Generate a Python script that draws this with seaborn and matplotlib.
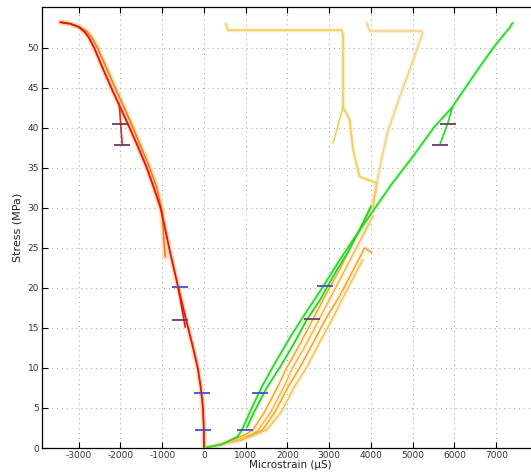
import matplotlib
matplotlib.use("Agg")
import matplotlib.pyplot as plt
import seaborn as sns
import pandas as pd

# ---------------- data ----------------
x_ticks = [-3000, -2000, -1000, 0, 1000, 2000, 3000, 4000, 5000, 6000, 7000]
y_ticks = [0, 5, 10, 15, 20, 25, 30, 35, 40, 45, 50]

# compressive gauge (left)
red_x = [0, -5, -25, -75, -150, -260, -380, -500, -615, -725, -835, -935, -1040, -1200, -1370,
         -1570, -1780, -2000, -2220, -2430, -2630, -2760, -2860, -3000, -3200, -3440]
red_y = [0, 2.5, 5, 7.5, 10, 12.5, 15, 17.5, 20, 22.5, 25, 27.5, 30, 32.5, 35,
         37.5, 40, 42.5, 45, 47.5, 50, 51.3, 52, 52.6, 53.0, 53.2]
orange_l_x = [-930, -960, -985, -1000, -1130, -1300, -1500, -1700, -1910, -2130, -2340, -2550,
              -2690, -2800, -2980, -3200, -3440]
orange_l_y = [23.9, 26, 28, 29.5, 32.5, 35, 37.5, 40, 42.5, 45, 47.5, 50,
              51.3, 52, 52.6, 53.0, 53.2]
red_b1_x = [-2030, -1960]
red_b1_y = [43.0, 37.9]
red_b2_x = [-615, -450]
red_b2_y = [20.0, 15.1]

# tensile gauges (right)
g1_x = [0, 400, 800, 910, 1100, 1380, 1700, 2060, 2400, 2820, 3250, 3650, 4020, 4500,
        5000, 5500, 5950, 6050, 6600, 7000, 7320, 7390]
g1_y = [0, 0.4, 1.4, 2.25, 4.5, 7.6, 10.6, 13.8, 16.6, 19.9, 23.5, 26.6, 29.4, 33,
        36.4, 40, 42.6, 43.4, 47.6, 50.5, 52.5, 53.1]
g2_x = [1030, 1200, 1500, 1820, 2150, 2460, 2780, 3100, 3450, 3750, 4000]
g2_y = [2.6, 4.5, 7.5, 10.1, 13, 16, 18.5, 21.5, 24.5, 27.5, 30.2]
g_b_x = [5950, 5840, 5650]
g_b_y = [42.6, 40.6, 37.9]

o1_x = [0, 500, 1000, 1170, 1450, 1750, 1990, 2300, 2600, 2900, 3250, 3600, 4000]
o1_y = [0, 0.6, 1.7, 2.25, 4.5, 7.5, 10.1, 13, 16, 19, 22.3, 26, 30]
o2_x = [0, 700, 1150, 1300, 1600, 1900, 2130, 2450, 2750, 3050, 3400, 3750, 4050]
o2_y = [0, 0.8, 1.7, 2.25, 4.5, 7.5, 10.1, 13, 16, 19, 22.5, 26, 29]
o3_x = [0, 900, 1400, 1700, 2000, 2300, 2600, 2900, 3250, 3550, 3850, 4020]
o3_y = [0, 1, 2.25, 4.5, 7.5, 10.1, 13, 16, 19, 22, 25, 24.4]
o4_x = [300, 1000, 1500, 1850, 2150, 2460, 2750, 3060, 3400, 3800]
o4_y = [0.3, 1.2, 2.25, 4.5, 7.5, 10.1, 13, 16, 19.5, 23.5]
o_up_x = [4000, 4100, 4250, 4400, 4690, 5000, 5240, 5200, 3970, 3900]
o_up_y = [30, 32, 36, 39.5, 43.9, 48.3, 51.9, 52.1, 52.1, 53.1]
y_up_x = [4050, 4140, 3730, 3570, 3490, 3330, 3330, 3300, 575, 520]
y_up_y = [30, 33.1, 33.9, 37.25, 41, 42.6, 51.6, 52.2, 52.2, 53.0]
y_b_x = [3090, 3330]
y_b_y = [38.1, 42.6]

# error markers
mk_blue_x = [-20, -50, -575, 980, 1340, 2900]
mk_blue_y = [2.25, 6.9, 20.1, 2.25, 6.9, 20.25]
mk_dark_x = [-575, -2000, -1970, 2580, 5850, 5650]
mk_dark_y = [16, 40.5, 37.9, 16.1, 40.5, 37.9]

# ---------------- figure ----------------
sns.set_theme(style="white")
plt.rcParams["font.family"] = ["DejaVu Sans"]
plt.rcParams["axes.unicode_minus"] = False

fig = plt.figure(figsize=(5.31, 4.73), dpi=100)
ax = fig.add_axes([42 / 531, 25 / 473, 496 / 531, 441 / 473])


def line(xs, ys, color, lw, alpha=1.0, z=2):
    df = pd.DataFrame({"x": xs, "y": ys})
    sns.lineplot(data=df, x="x", y="y", sort=False, estimator=None, color=color,
                 linewidth=lw, alpha=alpha, ax=ax, zorder=z)


# glows
for xs, ys in [(red_x, red_y), (orange_l_x, orange_l_y)]:
    line(xs, ys, "#fcdcaa", 4.0, 0.8, 1)
for xs, ys in [(o1_x, o1_y), (o2_x, o2_y), (o3_x, o3_y), (o4_x, o4_y), (o_up_x, o_up_y), (y_up_x, y_up_y)]:
    line(xs, ys, "#fbe6b8", 3.0, 0.6, 1)
for xs, ys in [(g1_x, g1_y), (g2_x, g2_y)]:
    line(xs, ys, "#c2f5b4", 3.0, 0.6, 1)

# main lines
line(o1_x, o1_y, "#f6a623", 1.0)
line(o2_x, o2_y, "#f8b648", 1.0)
line(o3_x, o3_y, "#f4a21c", 1.0)
line(o4_x, o4_y, "#f7c050", 1.0)
line(o_up_x, o_up_y, "#f6cf86", 1.0)
line(y_up_x, y_up_y, "#efcf5a", 1.2)
line(y_b_x, y_b_y, "#efcf5a", 1.2)
line(orange_l_x, orange_l_y, "#f07a20", 1.2, 1.0, 3)
line(red_x, red_y, "#e8141a", 1.4, 1.0, 4)
line(red_b1_x, red_b1_y, "#d8281a", 1.2, 1.0, 4)
line(red_b2_x, red_b2_y, "#e8141a", 1.2, 1.0, 4)
line(g1_x, g1_y, "#22d62a", 1.2, 1.0, 4)
line(g2_x, g2_y, "#2ccc2c", 1.2, 1.0, 4)
line(g_b_x, g_b_y, "#22d62a", 1.2, 1.0, 4)

sns.scatterplot(x=mk_blue_x, y=mk_blue_y, marker="_", s=140, color="#4b4bc8",
                linewidth=1.3, ax=ax, zorder=6)
sns.scatterplot(x=mk_dark_x, y=mk_dark_y, marker="_", s=140, color="#6a3a6a",
                linewidth=1.3, ax=ax, zorder=6)

ax.set_xlim(-3880, 8000)
ax.set_ylim(0, 55.1)
ax.set_xticks(x_ticks)
ax.set_yticks(y_ticks)
ax.set_xticklabels([str(v) for v in x_ticks])
ax.set_yticklabels([str(v) for v in y_ticks])
ax.tick_params(axis="both", direction="in", length=4, width=0.8, labelsize=6.5,
               colors="black", top=True, bottom=True, left=True, right=False, pad=2)
ax.tick_params(axis="x", labelcolor="#333333")
ax.tick_params(axis="y", labelcolor="#333333")
ax.grid(True, linestyle=(0, (1, 4)), color="#9a9a9a", linewidth=0.7)
for side in ["left", "bottom", "top"]:
    ax.spines[side].set_color("black")
    ax.spines[side].set_linewidth(0.9)
ax.spines["right"].set_visible(False)

ax.set_xlabel("Microstrain (\u00b5S)", fontsize=7.5, labelpad=0, color="#222222")
ax.set_ylabel("Stress (MPa)", fontsize=8, labelpad=4, color="#222222")

fig.savefig("out.png", dpi=100)
